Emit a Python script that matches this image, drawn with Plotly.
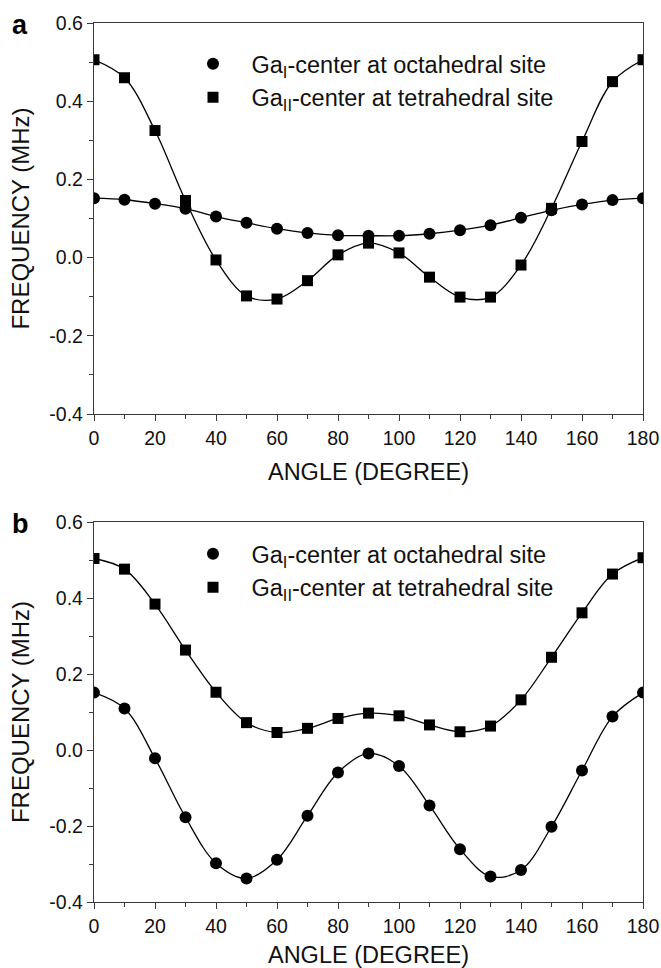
import plotly.graph_objects as go

# ---------------- data ----------------
angle = [0, 10, 20, 30, 40, 50, 60, 70, 80, 90, 100, 110, 120, 130, 140, 150, 160, 170, 180]

# panel a
a_octa = [0.152, 0.148, 0.138, 0.125, 0.105, 0.089, 0.074, 0.063, 0.057, 0.056, 0.056,
          0.061, 0.070, 0.083, 0.102, 0.121, 0.136, 0.147, 0.152]
a_tetra = [0.506, 0.460, 0.325, 0.146, -0.006, -0.098, -0.106, -0.059, 0.007, 0.037, 0.012,
           -0.050, -0.101, -0.101, -0.019, 0.126, 0.297, 0.450, 0.506]

# panel b
b_octa = [0.151, 0.109, -0.022, -0.177, -0.298, -0.338, -0.289, -0.173, -0.059, -0.009, -0.042,
          -0.146, -0.261, -0.333, -0.316, -0.202, -0.054, 0.088, 0.151]
b_tetra = [0.504, 0.476, 0.384, 0.263, 0.152, 0.072, 0.046, 0.057, 0.083, 0.097, 0.090,
           0.066, 0.048, 0.063, 0.132, 0.244, 0.361, 0.463, 0.506]

series_names = ["Ga<sub>I</sub>-center at octahedral site",
                "Ga<sub>II</sub>-center at tetrahedral site"]
x_tickvals = [0, 20, 40, 60, 80, 100, 120, 140, 160, 180]
y_tickvals = [-0.4, -0.2, 0.0, 0.2, 0.4, 0.6]
y_ticktext = ["-0.4", "-0.2", "0.0", "0.2", "0.4", "0.6"]
panel_labels = ["a", "b"]
x_title = "ANGLE (DEGREE)"
y_title = "FREQUENCY (MHz)"

FONT = "Liberation Sans, Arial, Helvetica, sans-serif"
AXC = "#3a3a3a"

fig = go.Figure()

panels = [
    ("x", "y", "legend", a_octa, a_tetra),
    ("x2", "y2", "legend2", b_octa, b_tetra),
]
for xa, ya, lg, octa, tetra in panels:
    for vals in (octa, tetra):
        fig.add_trace(go.Scatter(
            x=angle, y=vals, mode="lines", xaxis=xa, yaxis=ya,
            line=dict(color="black", width=1.3, shape="spline", smoothing=1.0),
            showlegend=False, hoverinfo="skip"))
    fig.add_trace(go.Scatter(
        x=angle, y=octa, mode="markers", xaxis=xa, yaxis=ya, legend=lg,
        name=series_names[0], legendgroup=lg + "o",
        marker=dict(symbol="circle", size=12, color="black", line=dict(width=0))))
    fig.add_trace(go.Scatter(
        x=angle, y=tetra, mode="markers", xaxis=xa, yaxis=ya, legend=lg,
        name=series_names[1], legendgroup=lg + "t",
        marker=dict(symbol="square", size=11, color="black", line=dict(width=0))))

PLOT_H = 968 - 23 - 66


def xaxis_cfg(anchor):
    return dict(
        anchor=anchor, range=[0, 180], domain=[0, 1], automargin=False,
        tickmode="array", tickvals=x_tickvals,
        ticks="outside", ticklen=6, tickwidth=1.2, tickcolor=AXC,
        minor=dict(tickmode="linear", tick0=0, dtick=10, ticks="outside",
                   ticklen=3.5, tickwidth=1.2, tickcolor=AXC),
        showline=True, linecolor=AXC, linewidth=1.3, mirror=True,
        showgrid=False, zeroline=False,
        tickfont=dict(family=FONT, size=19.5, color="#111"),
        title=dict(text=x_title, font=dict(family=FONT, size=23.5, color="#111"),
                   standoff=16),
    )


def yaxis_cfg(anchor, domain):
    return dict(
        anchor=anchor, range=[-0.4, 0.6], domain=domain, automargin=False,
        tickmode="array", tickvals=y_tickvals, ticktext=y_ticktext,
        ticks="outside", ticklen=6, tickwidth=1.2, tickcolor=AXC,
        minor=dict(tickmode="linear", tick0=0, dtick=0.1, ticks="outside",
                   ticklen=3.5, tickwidth=1.2, tickcolor=AXC),
        showline=True, linecolor=AXC, linewidth=1.3, mirror=True,
        showgrid=False, zeroline=False,
        tickfont=dict(family=FONT, size=19.5, color="#111"),
        title=dict(text=y_title, font=dict(family=FONT, size=24, color="#111"),
                   standoff=12),
    )


top_dom = [1 - 391 / PLOT_H, 1]
bot_dom = [0, 380 / PLOT_H]

legend_common = dict(
    xanchor="left", yanchor="top", bgcolor="rgba(0,0,0,0)", borderwidth=0,
    font=dict(family=FONT, size=23.5, color="#111"), tracegroupgap=0,
    itemwidth=67,
)

LEG_X = (174.5 - 94) / 549

fig.update_layout(
    width=661, height=968,
    margin=dict(l=94, r=18, t=23, b=66, autoexpand=False),
    paper_bgcolor="white", plot_bgcolor="white",
    font=dict(family=FONT, color="#111"),
    xaxis=xaxis_cfg("y"),
    yaxis=yaxis_cfg("x", top_dom),
    xaxis2=xaxis_cfg("y2"),
    yaxis2=yaxis_cfg("x2", bot_dom),
    legend=dict(x=LEG_X, y=1 - 19 / PLOT_H, **legend_common),
    legend2=dict(x=LEG_X, y=1 - 509 / PLOT_H, **legend_common),
    showlegend=True,
    annotations=[
        dict(text="<b>%s</b>" % panel_labels[0], xref="paper", yref="paper",
             x=(19.5 - 94) / 549, y=1 - (24.5 - 23) / PLOT_H, xanchor="center", yanchor="middle",
             showarrow=False, font=dict(family=FONT, size=27, color="black")),
        dict(text="<b>%s</b>" % panel_labels[1], xref="paper", yref="paper",
             x=(20.5 - 94) / 549, y=1 - (523.5 - 23) / PLOT_H, xanchor="center", yanchor="middle",
             showarrow=False, font=dict(family=FONT, size=27, color="black")),
    ],
)

fig.write_html("out.html")
